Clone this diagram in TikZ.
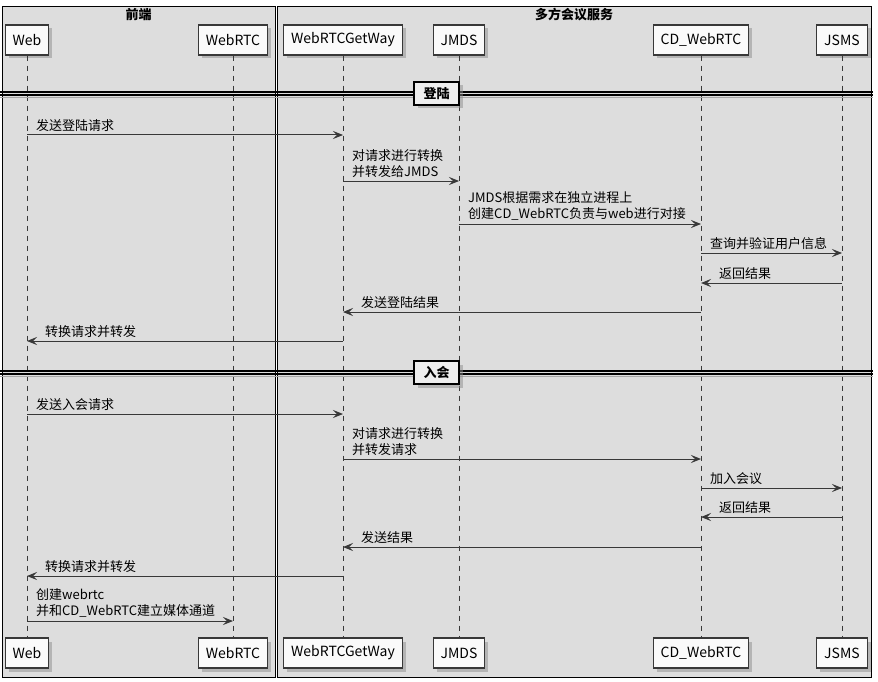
\documentclass[tikz,border=0pt]{standalone}
\usepackage{fontspec}
\setmainfont{Noto Sans CJK SC}
\usetikzlibrary{arrows.meta,shadows}
\usepackage{xcolor}
\definecolor{sqInk}{HTML}{383838}
\definecolor{sqGroup}{HTML}{DDDDDD}
\definecolor{sqBox}{HTML}{FAFAFA}
\definecolor{sqDiv}{HTML}{EEEEEE}

\begin{document}
\begin{tikzpicture}[
      x=1pt, y=-1pt,
      font=\fontsize{13}{16}\selectfont,
      >={Stealth[length=10pt, width=8pt, inset=4pt]},
      grp/.style={draw=black, line width=0.9pt, fill=sqGroup},
      grptitle/.style={inner sep=0pt, font=\fontsize{13}{16}\selectfont\bfseries},
      actor/.style={draw=sqInk, line width=1.1pt, fill=sqBox,
                  minimum height=30pt, inner xsep=7.5pt, inner ysep=0pt,
                  font=\fontsize{14}{16}\selectfont,
                  drop shadow={shadow xshift=3.5pt, shadow yshift=-3.5pt, fill=black!45}},
      life/.style={draw=sqInk, line width=0.8pt, dash pattern=on 5pt off 5pt},
      msg/.style={->, draw=sqInk, line width=1pt},
      mlbl/.style={anchor=south west, inner sep=0pt, align=left},
      % 分隔条上的标签
      divlbl/.style={draw=black, line width=1.3pt, fill=sqDiv,
                  minimum width=45pt, minimum height=23pt, inner sep=2pt,
                  font=\fontsize{13}{16}\selectfont\bfseries,
                  drop shadow={shadow xshift=3.5pt, shadow yshift=-3.5pt, fill=black!45}},
    ]

    \useasboundingbox (0,0) rectangle (878,682);
    \fill[white] (0,0) rectangle (878,682);

    % ---------- 分组框 ----------
    \draw[grp] (2,6) rectangle (275,677);
    \draw[grp] (277,6) rectangle (871,677);
    \node[grptitle] (fe)  at (138.5,15) {前端};
    \node[grptitle] (svc) at (574,15)   {多方会议服务};

    % ---------- 参与者（上下各一排）与生命线 ----------
    \foreach \n/\x/\lbl in {web/27/Web, rtc/233/WebRTC, gw/343/WebRTCGetWay,
                            jmds/459/JMDS, cdw/701/CD\_WebRTC, jsms/842/JSMS}{
      \node[actor] (\n)   at (\x,40)  {\lbl};
      \node[actor] (\n-b) at (\x,653) {\lbl};
      \draw[life] (\n) -- (\n-b);
    }

    % ---------- 分隔条：登陆 / 入会 ----------
    \foreach \y/\txt/\n in {92/登陆/login, 371/入会/join}{
      \draw[black!35, line width=1.6pt] (0,\y+5.6) -- (873,\y+5.6);
      \draw[black, line width=1.2pt] (0,\y) -- (873,\y);
      \draw[black, line width=1.2pt] (0,\y+3) -- (873,\y+3);
      \node[divlbl] (\n) at (436.5,\y+1.5) {\txt};
    }

    % ================= 向右的消息 =================
    \foreach \a/\b/\y/\txt in {
        web/gw/135/{发送登陆请求},
        gw/jmds/181/{对请求进行转换\\并转发给JMDS},
        jmds/cdw/224/{JMDS根据需求在独立进程上\\创建CD\_WebRTC负责与web进行对接},
        cdw/jsms/253/{查询并验证用户信息},
        web/gw/414/{发送入会请求},
        gw/cdw/459/{对请求进行转换\\并转发请求},
        cdw/jsms/488/{加入会议},
        web/rtc/621/{创建webrtc\\并和CD\_WebRTC建立媒体通道}}{
      \draw[msg] (\a |- 0,\y) -- (\b |- 0,\y);
      \node[mlbl] (m\y) at ([xshift=9pt, yshift=3pt]\a |- 0,\y) {\txt};
    }

    % ================= 向左的消息 =================
    \foreach \a/\b/\y/\txt in {
        jsms/cdw/283/{返回结果},
        cdw/gw/312/{发送登陆结果},
        gw/web/341/{转换请求并转发},
        jsms/cdw/517/{返回结果},
        cdw/gw/547/{发送结果},
        gw/web/576/{转换请求并转发}}{
      \draw[msg] (\a |- 0,\y) -- (\b |- 0,\y);
      \node[mlbl] (m\y) at ([xshift=18pt, yshift=3pt]\b |- 0,\y) {\txt};
    }

  \end{tikzpicture}
\end{document}
